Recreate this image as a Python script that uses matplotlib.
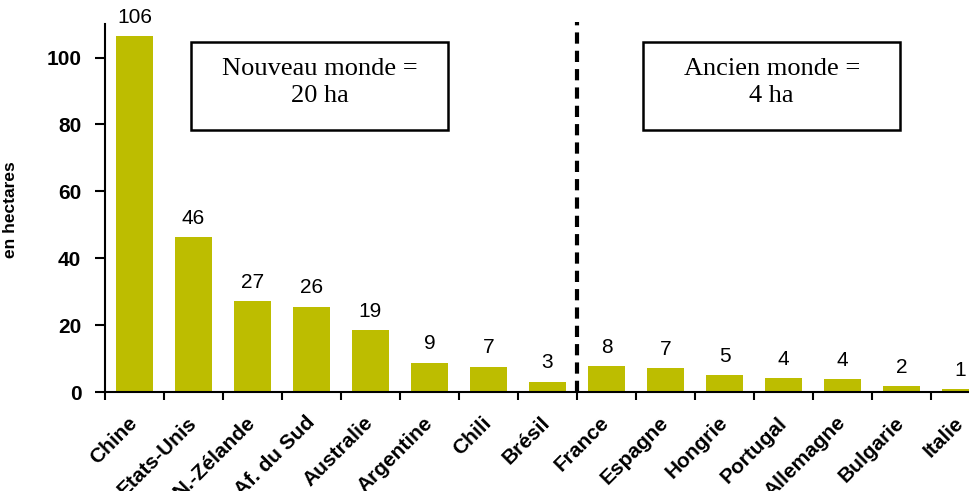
import matplotlib.pyplot as plt
import numpy as np
from matplotlib.patches import Rectangle

# surfaces moyennes des exploitations viticoles
pays = ["Chine", "Etats-Unis", "N.-Zélande", "Af. du Sud", "Australie", "Argentine",
        "Chili", "Brésil", "France", "Espagne", "Hongrie", "Portugal", "Allemagne",
        "Bulgarie", "Italie"]
hectares = [106.3, 46.3, 27.2, 25.5, 18.6, 8.8, 7.6, 3.1, 7.8, 7.2, 5.1, 4.2, 3.9, 1.8, 0.9]
etiquettes = ["106", "46", "27", "26", "19", "9", "7", "3", "8", "7", "5", "4", "4", "2", "1"]
boites = ["Nouveau monde =\n20 ha", "Ancien monde =\n4 ha"]
yticks = [0, 20, 40, 60, 80, 100]

couleur = "#bdbd00"

fig = plt.figure(figsize=(9.70, 4.91), dpi=100)
ax = fig.add_axes([0.1082, 0.2016, 0.9124, 0.7494])

x = np.arange(len(pays))
ax.bar(x, hectares, width=0.63, color=couleur)

for xi, h, lab in zip(x, hectares, etiquettes):
    ax.annotate(lab, (xi, h), xytext=(0, 13.5), textcoords="offset points",
                ha="center", va="center", fontsize=15, family="Liberation Sans")

ax.set_xlim(-0.5, len(pays) - 0.5)
ax.set_ylim(0, 110)

ax.spines["top"].set_visible(False)
ax.spines["right"].set_visible(False)
ax.spines["left"].set_linewidth(1.5)
ax.spines["bottom"].set_linewidth(1.5)

ax.set_yticks(yticks)
ax.set_yticklabels([str(v) for v in yticks], fontsize=15, fontweight="bold",
                   family="Liberation Sans")
ax.tick_params(axis="y", length=7, width=1.5, pad=10)

# ticks aux limites des categories, etiquettes au centre
ax.set_xticks(np.arange(len(pays) + 1) - 0.5)
ax.set_xticklabels([])
ax.tick_params(axis="x", which="major", length=6, width=1.5)
ax.set_xticks(x, minor=True)
ax.set_xticklabels(pays, minor=True, rotation=45, ha="right", va="center",
                   rotation_mode="anchor", fontsize=15, fontweight="bold",
                   family="Liberation Sans")
ax.tick_params(axis="x", which="minor", length=0, pad=20)

ax.set_ylabel("en hectares", fontsize=12.5, fontweight="bold", family="Liberation Sans")
ax.yaxis.set_label_coords(-0.098, 0.495)

# separation nouveau / ancien monde
ax.plot([7.5, 7.5], [0, 110.5], linestyle=(0, (2.7, 1.7)), color="black", lw=3,
        clip_on=False)

for bx, txt in zip([0.197, 0.663], boites):
    fig.add_artist(Rectangle((bx, 0.735), 0.265, 0.179, transform=fig.transFigure,
                             fill=False, edgecolor="black", lw=1.8))
    fig.text(bx + 0.1325, 0.832, txt, ha="center", va="center", fontsize=19,
             family="Liberation Serif", linespacing=1.35)

fig.savefig("out.png", dpi=100)
